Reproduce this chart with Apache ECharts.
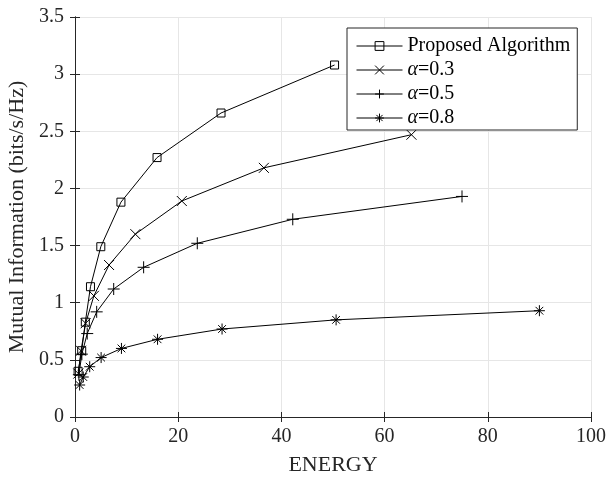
<!DOCTYPE html>
<html>
<head>
<meta charset="utf-8">
<script src="https://cdn.jsdelivr.net/npm/echarts@6/dist/echarts.min.js"></script>
<style>html,body{margin:0;padding:0;background:#fff}#c{width:616px;height:478px}</style>
</head>
<body>
<div id="c"></div>
<script>
var seriesNames = ['Proposed Algorithm', 'α=0.3', 'α=0.5', 'α=0.8'];
var proposedX = [0.6, 1.3, 2.0, 3.0, 5.0, 8.9, 15.9, 28.3, 50.3];
var proposedY = [0.40, 0.58, 0.83, 1.14, 1.49, 1.88, 2.27, 2.66, 3.08];
var a03X = [0.65, 1.16, 2.06, 3.66, 6.6, 11.7, 20.7, 36.6, 65.2];
var a03Y = [0.38, 0.58, 0.82, 1.06, 1.33, 1.60, 1.89, 2.18, 2.47];
var a05X = [0.75, 1.33, 2.37, 4.2, 7.5, 13.3, 23.7, 42.2, 75.0];
var a05Y = [0.37, 0.55, 0.73, 0.92, 1.12, 1.31, 1.52, 1.73, 1.93];
var a08X = [0.9, 1.6, 2.85, 5.06, 9.0, 16.0, 28.5, 50.6, 90.0];
var a08Y = [0.28, 0.35, 0.44, 0.52, 0.60, 0.68, 0.77, 0.85, 0.93];
var xTicks = [0, 20, 40, 60, 80, 100];
var yTicks = [0, 0.5, 1, 1.5, 2, 2.5, 3, 3.5];

function pairs(xs, ys) { return xs.map(function (x, i) { return [x, ys[i]]; }); }

var FONT = 'Liberation Serif';
var TXT = '#262626';
var symX = 'path://M0,0L10,10M10,0L0,10';
var symPlus = 'path://M5,0L5,10M0,5L10,5';
var symStar = 'path://M5,0L5,10M0,5L10,5M1.5,1.5L8.5,8.5M8.5,1.5L1.5,8.5';

function mkSeries(name, data, symbol, size) {
  return {
    name: name, type: 'line', data: data, symbol: symbol, symbolSize: size,
    showAllSymbol: true, animation: false,
    lineStyle: { color: '#000', width: 1 },
    itemStyle: { color: 'rgba(0,0,0,0)', borderColor: '#000', borderWidth: 1 },
    emphasis: { disabled: true }
  };
}

var chart = echarts.init(document.getElementById('c'), null, { renderer: 'canvas' });
var axisCommon = {
  type: 'value',
  axisLine: { show: true, lineStyle: { color: TXT, width: 1 } },
  axisTick: { show: true, inside: true, length: 5, lineStyle: { color: TXT } },
  splitLine: { show: false }
};
chart.setOption({
  animation: false,
  backgroundColor: '#fff',
  grid: { left: 75, right: 25, top: 17, bottom: 61, containLabel: false, outerBoundsMode: 'none' },
  xAxis: [
    Object.assign({}, axisCommon, {
      min: xTicks[0], max: xTicks[xTicks.length - 1], interval: 20, position: 'bottom',
      name: 'ENERGY', nameLocation: 'middle', nameGap: 37,
      nameTextStyle: { fontFamily: FONT, fontSize: 22, color: TXT },
      axisLabel: { fontFamily: FONT, fontSize: 20, color: TXT, margin: 10 },
      splitLine: { show: true, lineStyle: { color: '#e6e6e6', width: 1 } }
    }),
    Object.assign({}, axisCommon, {
      min: xTicks[0], max: xTicks[xTicks.length - 1], interval: 20, position: 'top',
      axisLabel: { show: false }
    })
  ],
  yAxis: [
    Object.assign({}, axisCommon, {
      min: yTicks[0], max: yTicks[yTicks.length - 1], interval: 0.5, position: 'left',
      name: 'Mutual Information (bits/s/Hz)', nameLocation: 'middle', nameGap: 40,
      nameTextStyle: { fontFamily: FONT, fontSize: 22, color: TXT },
      axisLabel: { fontFamily: FONT, fontSize: 20, color: TXT, margin: 11 },
      splitLine: { show: true, lineStyle: { color: '#e6e6e6', width: 1 } }
    }),
    Object.assign({}, axisCommon, {
      min: yTicks[0], max: yTicks[yTicks.length - 1], interval: 0.5, position: 'right',
      axisLabel: { show: false }
    })
  ],
  legend: {
    orient: 'vertical', left: 347, top: 28,
    padding: [8, 7, 2, 9], itemGap: 4, itemWidth: 46, itemHeight: 11,
    backgroundColor: '#fff', borderColor: TXT, borderWidth: 1, borderRadius: 0,
    lineStyle: { color: '#000', width: 1 },
    itemStyle: { color: 'rgba(0,0,0,0)', borderColor: '#000', borderWidth: 1 },
    textStyle: {
      fontFamily: FONT, fontSize: 20, color: '#000', lineHeight: 20,
      rich: { i: { fontFamily: FONT, fontSize: 20, fontStyle: 'italic', color: '#000' } }
    },
    formatter: function (n) { return n.indexOf('α') === 0 ? '{i|α}' + n.slice(1) : n; },
    data: seriesNames
  },
  series: [
    mkSeries(seriesNames[0], pairs(proposedX, proposedY), 'rect', 8),
    mkSeries(seriesNames[1], pairs(a03X, a03Y), symX, 10),
    mkSeries(seriesNames[2], pairs(a05X, a05Y), symPlus, 12),
    mkSeries(seriesNames[3], pairs(a08X, a08Y), symStar, 11)
  ]
});
</script>
</body>
</html>
